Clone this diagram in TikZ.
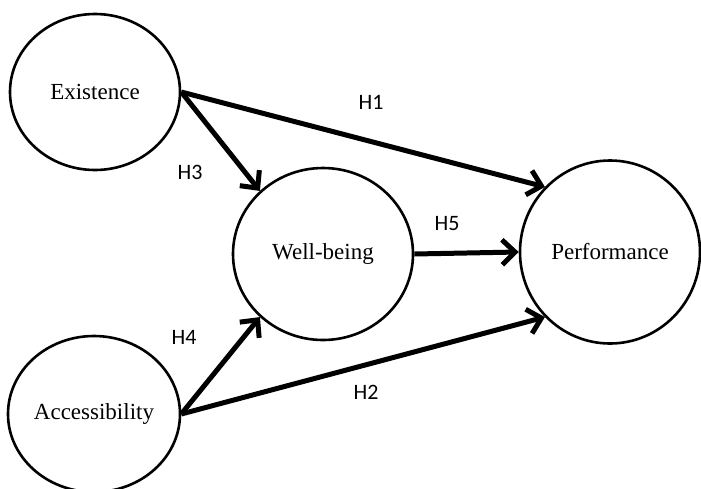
\documentclass[tikz,border=0pt]{standalone}
\usepackage{fontspec}
\setmainfont{Liberation Serif}
\newfontfamily\hfont{Carlito}
\usetikzlibrary{shapes.geometric,arrows.meta}

\begin{document}
\begin{tikzpicture}[x=1pt,y=-1pt,
	construct/.style={ellipse,draw,line width=2.6pt,inner sep=0pt,
		font=\fontsize{23}{26}\selectfont},
	path/.style={line width=5pt,-{Straight Barb[length=13pt,width=25pt]}},
	hyp/.style={font=\hfont\fontsize{22}{25}\selectfont}]
\useasboundingbox (0,0) rectangle (701,488);
\node[construct,minimum width=170pt,minimum height=156pt] (ex)   at (95,92)   {Existence};
\node[construct,minimum width=172pt,minimum height=156pt] (acc)  at (94,414)  {Accessibility};
\node[construct,minimum width=180pt,minimum height=172pt] (wb)   at (323,254) {Well-being};
\node[construct,minimum width=180pt,minimum height=183pt] (perf) at (610,252) {Performance};
% hypotheses
\draw[path] (ex.east)  -- (perf.135);
\draw[path] (acc.east) -- (perf.225);
\draw[path] (ex.east)  -- (wb.135);
\draw[path] (acc.east) -- (wb.225);
\draw[path] (wb.east)  -- (perf.west);
\node[hyp] (h1) at (371,102) {H1};
\node[hyp] (h2) at (366,392) {H2};
\node[hyp] (h3) at (190,172) {H3};
\node[hyp] (h4) at (184,337) {H4};
\node[hyp] (h5) at (447,224) {H5};
\end{tikzpicture}
\end{document}
